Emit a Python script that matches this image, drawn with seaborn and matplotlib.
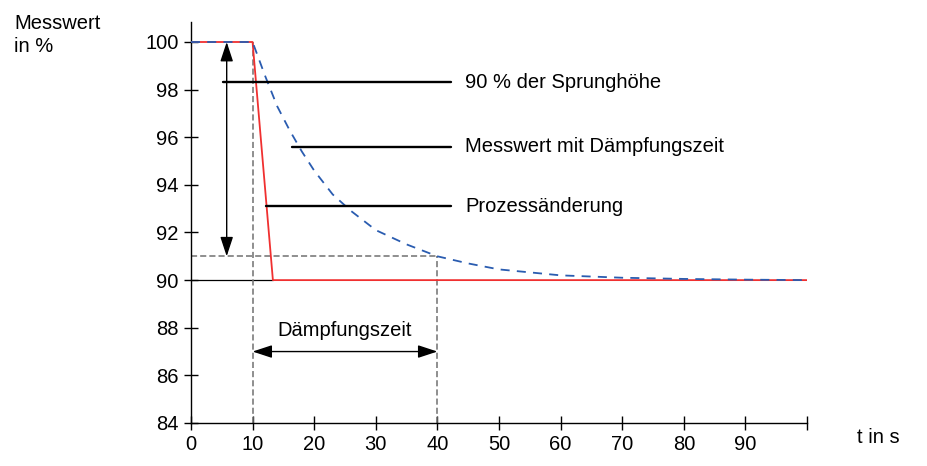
import numpy as np
import pandas as pd
import seaborn as sns
import matplotlib.pyplot as plt

# Prozessänderung (Sprung 100 -> 90)
t_prozess = [0, 10, 13.3, 100]
w_prozess = [100, 100, 90, 90]

# Messwert mit Dämpfungszeit
t_mess = [0, 10, 12, 14, 16, 18, 20, 23, 26, 30, 35, 40, 45, 50, 60, 70, 80, 90, 100]
w_mess = [100, 100, 98.6, 97.3, 96.3, 95.4, 94.6, 93.6, 92.9, 92.1, 91.5, 91.0, 90.7, 90.45, 90.2, 90.1, 90.05, 90.02, 90.0]

x_ticks = [0, 10, 20, 30, 40, 50, 60, 70, 80, 90, 100]
x_labels = ["0", "10", "20", "30", "40", "50", "60", "70", "80", "90", ""]
y_ticks = [84, 86, 88, 90, 92, 94, 96, 98, 100]

labels = ["90 % der Sprunghöhe", "Messwert mit Dämpfungszeit", "Prozessänderung"]
label_y = [98.3, 95.6, 93.1]
label_x0 = [5.2, 16.4, 12.2]

sns.set_style("ticks", {"axes.edgecolor": "black", "text.color": "black",
                        "xtick.color": "black", "ytick.color": "black"})
plt.rcParams['font.family'] = ['Liberation Sans', 'DejaVu Sans']
fs = 14.5

fig = plt.figure(figsize=(9.27, 4.66), dpi=100)
ax = fig.add_axes([0.206, 0.0923, 0.6646, 0.8605])

df_p = pd.DataFrame({"t": t_prozess, "w": w_prozess})
df_m = pd.DataFrame({"t": t_mess, "w": w_mess})

# Hilfslinien
ax.plot([0, 13.3], [90, 90], color="black", lw=0.9, zorder=2)
ax.plot([0, 40], [91, 91], color="#707070", lw=1.1, ls=(0, (4, 2)), zorder=2)
ax.plot([10, 10], [84, 100], color="#707070", lw=1.1, ls=(0, (4, 2)), zorder=2)
ax.plot([40, 40], [84, 91], color="#707070", lw=1.1, ls=(0, (4, 2)), zorder=2)

sns.lineplot(data=df_p, x="t", y="w", color="#f03030", lw=1.3, ax=ax, zorder=3)
sns.lineplot(data=df_m, x="t", y="w", color="#2a5cb0", lw=1.3, ax=ax, zorder=4)
ax.lines[-1].set_linestyle((0, (5, 4)))

# Beschriftungslinien
for lab, y, x0 in zip(labels, label_y, label_x0):
    ax.plot([x0, 42.2], [y, y], color="black", lw=1.7, zorder=5)
    ax.text(44.5, y, lab, fontsize=fs, va="center", ha="left", color="black")

arrow = dict(arrowstyle="<|-|>,head_length=0.85,head_width=0.28", color="black",
             lw=1.0, mutation_scale=14, shrinkA=0, shrinkB=0)
# Sprunghöhe Pfeil
ax.annotate("", xy=(5.8, 100), xytext=(5.8, 91), arrowprops=arrow)
# Dämpfungszeit Pfeil
ax.annotate("", xy=(10, 87.0), xytext=(40, 87.0), arrowprops=arrow)
ax.text(25, 87.9, "Dämpfungszeit", fontsize=fs, ha="center", va="center", color="black")

ax.set_xlim(0, 100)
ax.set_ylim(84, 100.84)
ax.set_xticks(x_ticks)
ax.set_xticklabels(x_labels)
ax.set_yticks(y_ticks)
ax.tick_params(direction="inout", length=10, width=1.0, labelsize=fs, pad=4,
               colors="black")
sns.despine(ax=ax)
ax.spines["left"].set_linewidth(1.0)
ax.spines["bottom"].set_linewidth(1.0)
ax.set_xlabel("")
ax.set_ylabel("")

fig.text(0.015, 0.97, "Messwert\nin %", fontsize=fs, va="top", ha="left",
         linespacing=1.3, color="black")
fig.text(0.925, 0.04, "t in s", fontsize=fs, va="bottom", ha="left", color="black")

fig.savefig("out.png", dpi=100)
